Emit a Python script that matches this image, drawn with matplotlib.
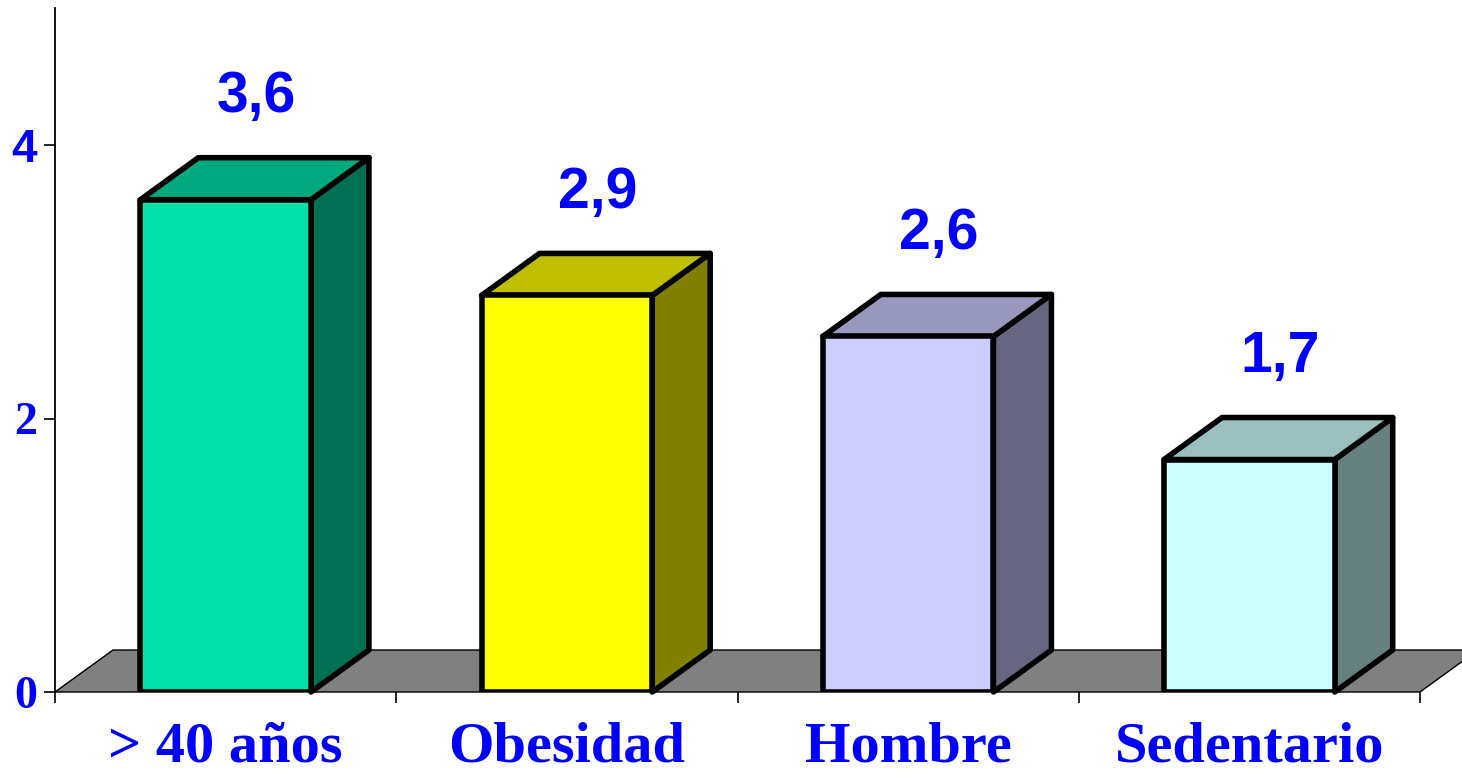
import matplotlib
matplotlib.use("Agg")
import matplotlib.pyplot as plt
from matplotlib.patches import Polygon
from matplotlib import colors as mcolors

categories = ["> 40 años", "Obesidad", "Hombre", "Sedentario"]
values = [3.6, 2.9, 2.6, 1.7]
value_labels = ["3,6", "2,9", "2,6", "1,7"]
front_colors = ["#00E0A8", "#FFFF00", "#CCCCFF", "#CCFFFF"]
y_ticks = [0, 2, 4]
y_tick_labels = ["0", "2", "4"]

W, H = 1462, 778
fig = plt.figure(figsize=(W / 100, H / 100), dpi=100)
x0, x1 = 55, 1420
y0, ytop = 692, 8.25
ax = fig.add_axes([x0 / W, (H - y0) / H, (x1 - x0) / W, (y0 - ytop) / H])
n = len(categories)
ax.set_xlim(0, n)
ax.set_ylim(0, 5)

px_x = (x1 - x0) / n
px_y = (y0 - ytop) / 5
dx = 58 / px_x
dy = 42 / px_y

BLUE = "#0000FF"

# floor
floor = Polygon([(0, 0), (n, 0), (n + dx, dy), (dx, dy)], closed=True,
                 facecolor="#808080", edgecolor="black", linewidth=1.0,
                 zorder=1, clip_on=False)
ax.add_patch(floor)


def shade(c, f):
    r, g, b = mcolors.to_rgb(c)
    return (r * f, g * f, b * f)


xs = [i + 0.5 for i in range(n)]
bw = 0.5
bars = ax.bar(xs, values, width=bw, color=front_colors, edgecolor="black",
              linewidth=4, zorder=4, joinstyle="round")
for i, (x, v) in enumerate(zip(xs, values)):
    l, r = x - bw / 2, x + bw / 2
    top = Polygon([(l, v), (r, v), (r + dx, v + dy), (l + dx, v + dy)],
                  closed=True, facecolor=shade(front_colors[i], 0.75),
                  edgecolor="black", linewidth=4, joinstyle="round",
                  zorder=3, clip_on=False)
    side = Polygon([(r, 0), (r + dx, dy), (r + dx, v + dy), (r, v)],
                   closed=True, facecolor=shade(front_colors[i], 0.5),
                   edgecolor="black", linewidth=4, joinstyle="round",
                   zorder=3, clip_on=False)
    ax.add_patch(side)
    ax.add_patch(top)
    ax.text(x + 0.09, v + 0.75, value_labels[i], ha="center", va="center",
            color=BLUE, fontsize=41, fontweight="bold",
            family=["Liberation Sans Narrow", "Liberation Sans"], zorder=6)

# axes styling
for s in ["top", "right", "bottom"]:
    ax.spines[s].set_visible(False)
ax.spines["left"].set_linewidth(1.3)
ax.spines["left"].set_zorder(2)

ax.set_yticks(y_ticks)
ax.set_yticklabels(y_tick_labels)
ax.tick_params(axis="y", direction="out", length=8, width=1.2, pad=5,
               labelsize=33, labelcolor=BLUE)
for lab in ax.get_yticklabels():
    lab.set_fontweight("bold")
    if lab.get_text() == "4":
        lab.set_family("Liberation Sans")
    else:
        lab.set_family("Liberation Serif")

ax.set_xticks(range(n + 1))
ax.set_xticklabels([])
ax.tick_params(axis="x", which="major", direction="out", length=8, width=1.2)
ax.set_xticks(xs, minor=True)
ax.set_xticklabels(categories, minor=True)
ax.tick_params(axis="x", which="minor", length=0, pad=21, labelsize=42,
               labelcolor=BLUE)
for lab in ax.get_xticklabels(minor=True):
    lab.set_fontweight("bold")
    lab.set_family("Liberation Serif")

fig.savefig("out.png", dpi=100)
